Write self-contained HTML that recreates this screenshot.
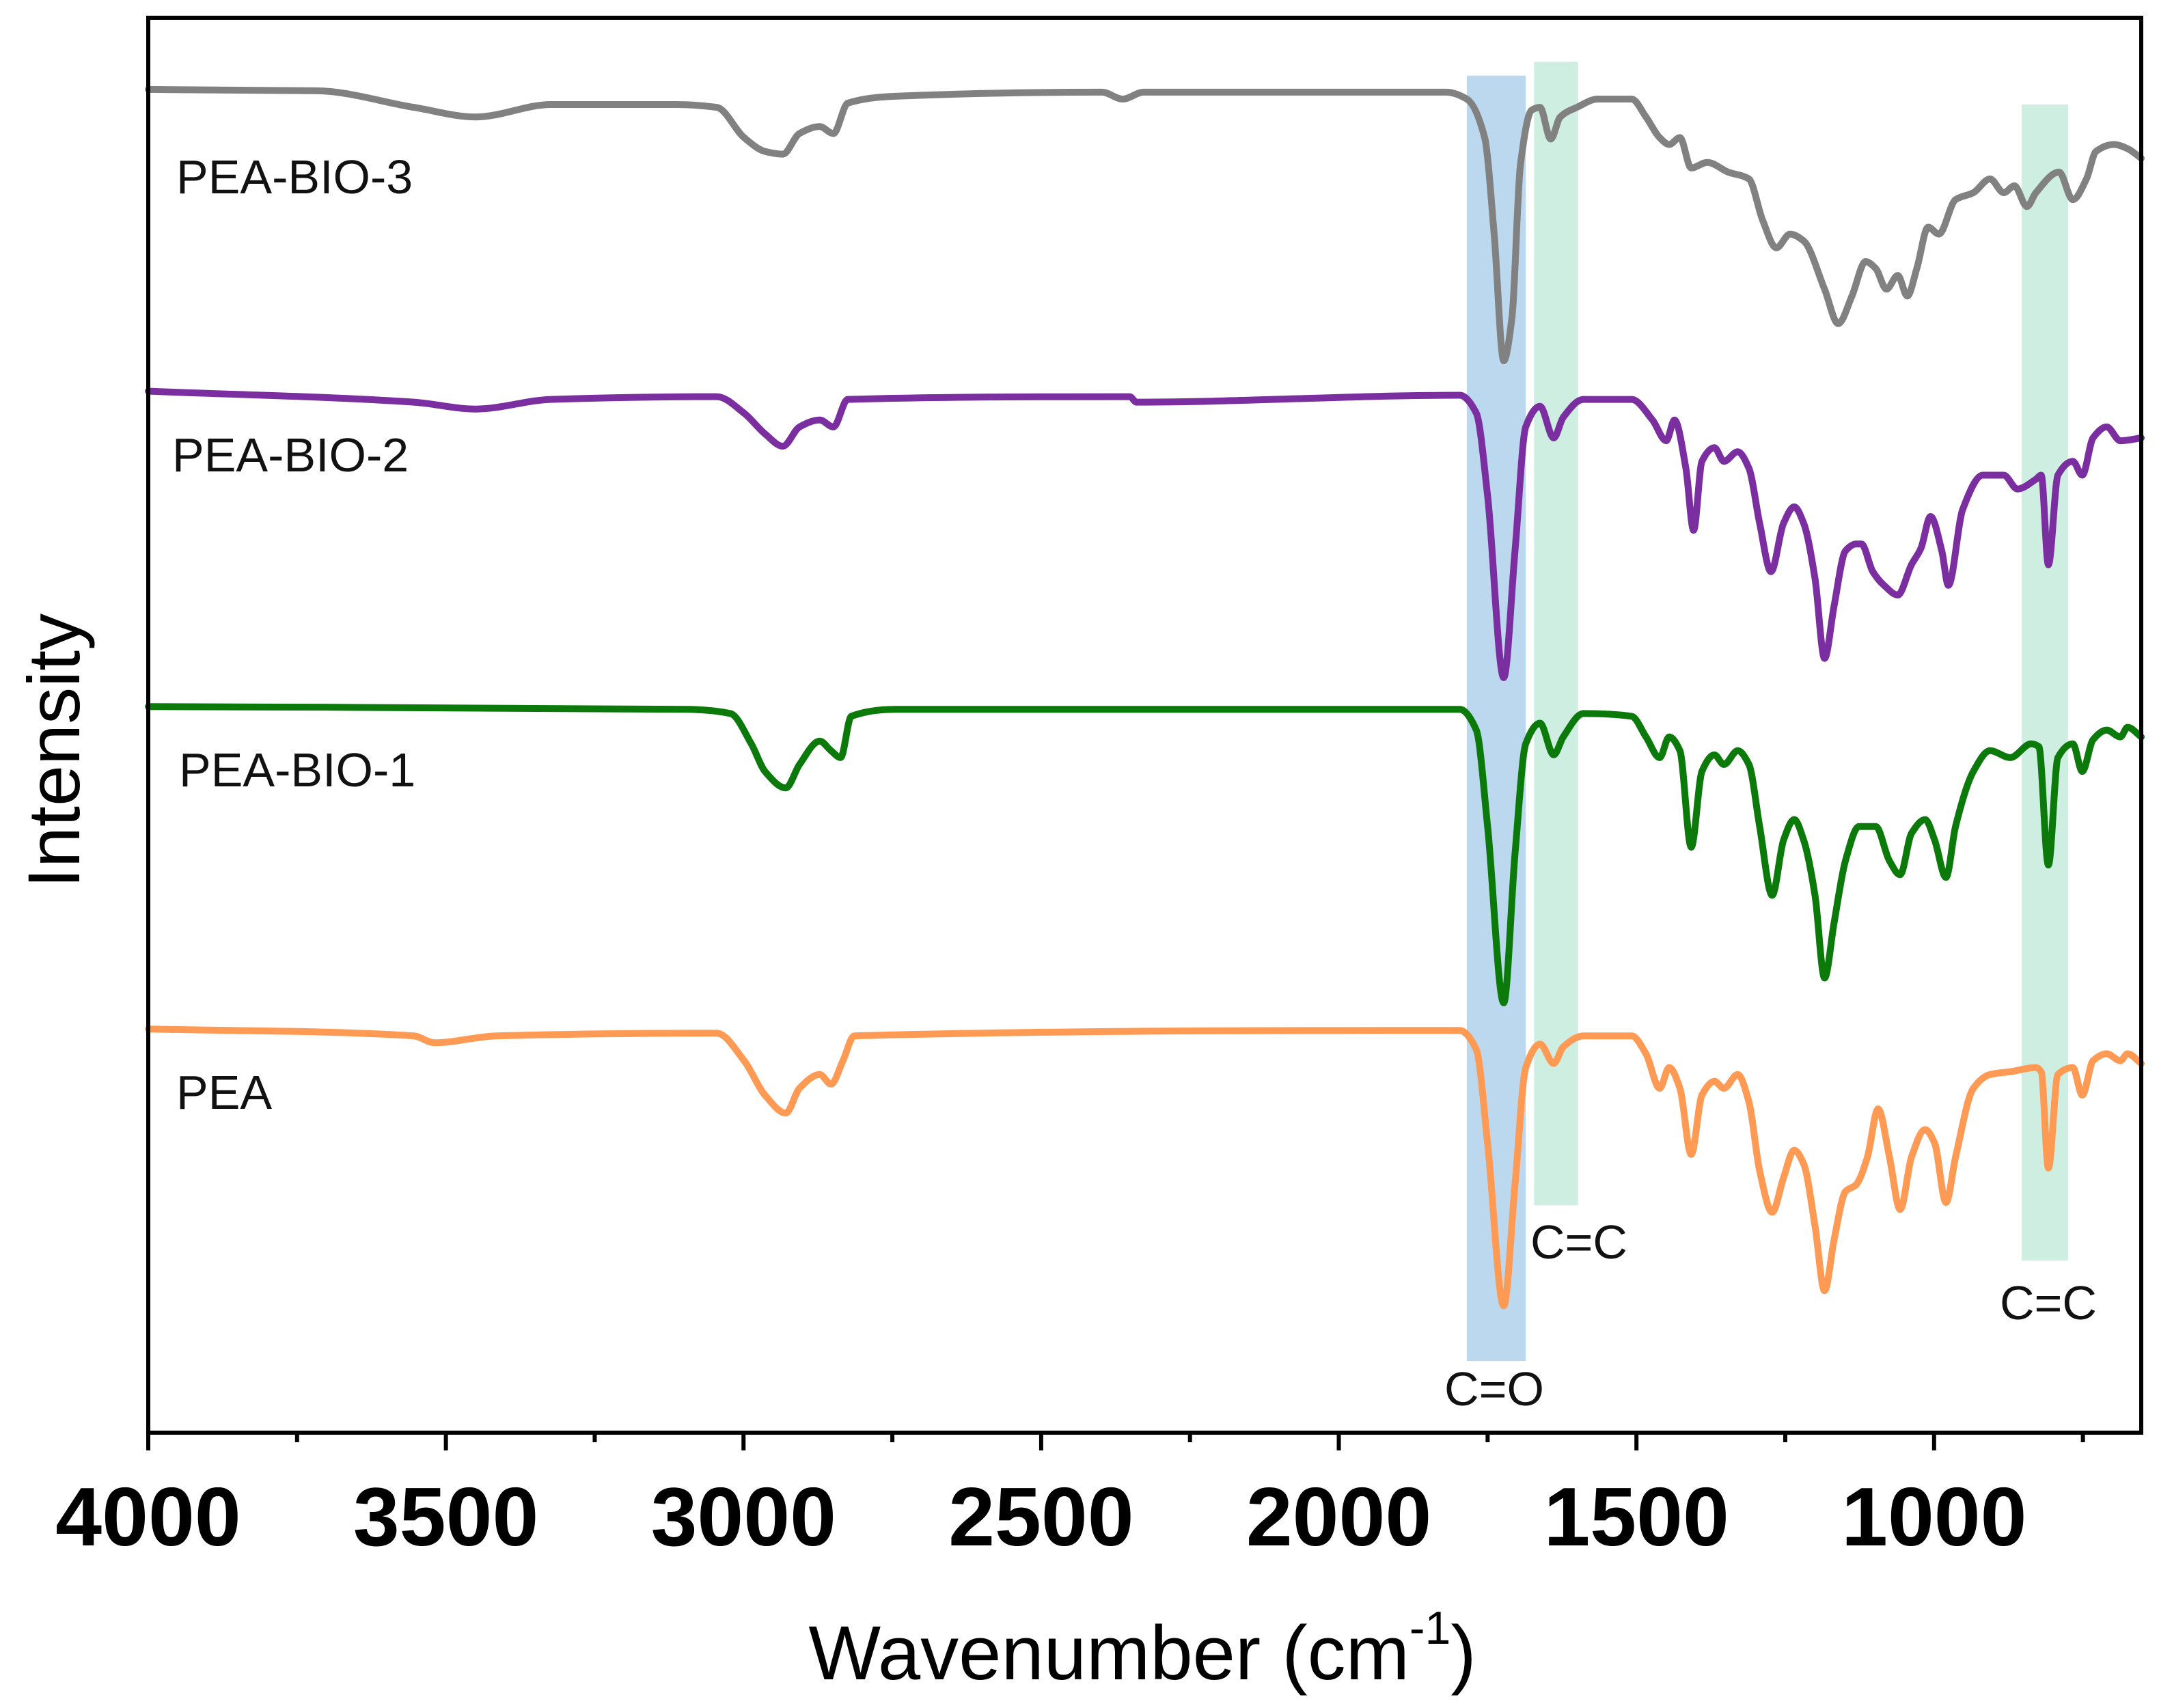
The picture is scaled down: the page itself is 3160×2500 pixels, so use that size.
<!DOCTYPE html>
<html><head><meta charset="utf-8"><style>
html,body{margin:0;padding:0;background:#fff;}
svg{display:block;}
text{font-family:"Liberation Sans",Arial,sans-serif;}
</style></head><body>
<svg id="chart" width="3160" height="2500" viewBox="0 0 3160 2500" xmlns="http://www.w3.org/2000/svg">
<g id="bands"></g>
<g id="lines"></g>
<g id="labels"></g>
<g id="axes"></g>
</svg>
<script>
// ---- data ----
const xTicks = [4000, 3500, 3000, 2500, 2000, 1500, 1000];
const xMinorTicks = [3750, 3250, 2750, 2250, 1750, 1250, 750];
const seriesNames = ["PEA-BIO-3", "PEA-BIO-2", "PEA-BIO-1", "PEA"];
const seriesColors = ["#818181", "#7a2ea0", "#0b7a0b", "#ff9a55"];
const bio3W = [4000,3716,3554,3450,3323,3114,3045,2999,2964,2934,2906,2872,2849,2825,2745,2398,2363,2328,1820,1785,1755,1739,1723,1709,1695,1676,1662,1644,1628,1600,1565,1508,1484,1461,1445,1427,1408,1381,1346,1311,1288,1265,1242,1219,1184,1161,1138,1115,1098,1080,1061,1045,1029,1010,992,964,934,906,883,865,844,829,790,767,744,728,698,675,652];
const bio3V = [975,974,962,955,964,964,962,940,930,928,943,948,943,965,970,973,968,973,973,968,940,870,778,810,920,960,962,939,955,962,968,968,955,940,935,940,918,922,915,910,880,860,870,865,830,805,825,850,845,830,840,825,845,875,870,895,900,910,900,905,890,900,915,895,910,930,935,932,925];
const bio2W = [4000,3554,3450,3323,3045,2999,2964,2934,2906,2872,2849,2825,2351,2340,1797,1769,1750,1723,1704,1686,1662,1639,1623,1589,1508,1473,1450,1436,1417,1404,1390,1369,1353,1330,1311,1293,1274,1253,1235,1219,1200,1184,1168,1149,1131,1122,1103,1084,1061,1038,1022,1006,987,976,952,918,883,860,829,820,808,792,767,751,733,710,687,652];
const bio2V = [756,748,743,750,752,740,725,716,730,735,730,750,752,748,753,740,680,548,640,730,745,722,737,750,750,735,720,735,700,655,705,715,705,712,700,660,625,660,672,660,620,562,600,640,645,645,625,615,608,630,642,665,640,615,670,695,695,685,692,695,630,695,705,695,722,730,720,722];
const bio1W = [4000,3091,3022,2987,2964,2929,2906,2872,2853,2837,2819,2745,1797,1769,1750,1723,1704,1686,1662,1639,1623,1589,1508,1484,1461,1445,1427,1408,1390,1369,1353,1330,1311,1293,1272,1253,1235,1219,1200,1184,1168,1149,1126,1098,1075,1057,1038,1015,999,980,964,934,906,872,837,824,808,792,767,751,733,710,687,675,652];
const bio1V = [527,525,522,500,480,468,485,502,495,490,520,525,525,510,440,312,420,500,515,492,505,522,520,505,490,505,495,425,480,492,485,495,485,440,390,430,445,430,390,330,370,415,440,440,415,405,435,445,430,403,440,480,495,490,500,498,412,490,500,480,503,510,505,512,505];
const peaW = [4000,3554,3519,3415,3045,2999,2964,2929,2906,2872,2853,2833,2814,1797,1769,1750,1723,1704,1686,1662,1639,1623,1589,1508,1484,1461,1445,1427,1408,1390,1369,1353,1330,1311,1293,1272,1253,1235,1219,1200,1184,1168,1149,1131,1112,1094,1075,1057,1038,1015,999,980,964,934,906,872,829,820,808,792,767,751,733,710,687,675,652];
const peaV = [293,288,283,288,290,270,245,232,250,260,253,270,288,292,278,210,92,180,265,282,268,280,288,288,275,250,265,250,202,245,255,250,260,240,190,160,185,205,195,150,103,140,175,180,200,235,200,162,200,220,210,167,200,250,260,262,265,262,192,260,265,245,270,275,270,275,268];
const bandLabels = ["C=O", "C=C", "C=C"];
const bandFrom = [1785, 1672, 853];
const bandTo = [1686, 1598, 775];
const bandTopV = [985, 995, 964];
const bandBottomV = [52, 165, 125];

// ---- layout ----
const L = 217, R = 3134, T = 26, B = 2097;
const W0 = 4000, W1 = 652, VMAX = 1027;
const xS = w => L + (W0 - w) / (W0 - W1) * (R - L);
const yS = v => B - v / VMAX * (B - T);
const NS = "http://www.w3.org/2000/svg";
function mk(tag, parent) { const e = document.createElementNS(NS, tag); parent.appendChild(e); return e; }

const bandsG = document.getElementById('bands');
const bandColors = ["#bcd8ee", "#cfeee2", "#cfeee2"];
bandFrom.forEach((f, i) => {
  const r = mk('rect', bandsG);
  
  
  r.setAttribute('x', xS(f)); r.setAttribute('width', xS(bandTo[i]) - xS(f));
  r.setAttribute('y', yS(bandTopV[i])); r.setAttribute('height', yS(bandBottomV[i]) - yS(bandTopV[i]));
  r.setAttribute('fill', bandColors[i]);
});

// monotone-x cubic interpolation (no overshoot in x)
function smoothPath(pts) {
  const n = pts.length;
  const dx = [], s = [];
  for (let i = 0; i < n - 1; i++) { dx.push(pts[i+1][0] - pts[i][0]); s.push((pts[i+1][1] - pts[i][1]) / dx[i]); }
  const m = new Array(n);
  m[0] = s[0]; m[n-1] = s[n-2];
  for (let i = 1; i < n - 1; i++) {
    if (s[i-1] * s[i] <= 0) m[i] = 0;
    else { const w1 = 2*dx[i] + dx[i-1], w2 = dx[i] + 2*dx[i-1]; m[i] = (w1 + w2) / (w1 / s[i-1] + w2 / s[i]); }
  }
  let d = 'M' + pts[0][0].toFixed(1) + ',' + pts[0][1].toFixed(1);
  for (let i = 0; i < n - 1; i++) {
    const h = dx[i] / 3;
    d += 'C' + (pts[i][0] + h).toFixed(1) + ',' + (pts[i][1] + m[i]*h).toFixed(1) + ' ' +
         (pts[i+1][0] - h).toFixed(1) + ',' + (pts[i+1][1] - m[i+1]*h).toFixed(1) + ' ' +
         pts[i+1][0].toFixed(1) + ',' + pts[i+1][1].toFixed(1);
  }
  return d;
}
const linesG = document.getElementById('lines');
const allW = [bio3W, bio2W, bio1W, peaW], allV = [bio3V, bio2V, bio1V, peaV];
allW.forEach((ws, i) => {
  const pts = ws.map((w, j) => [xS(w), yS(allV[i][j])]);
  const p = mk('path', linesG);
  
  
  p.setAttribute('d', smoothPath(pts));
  p.setAttribute('fill', 'none'); p.setAttribute('stroke', seriesColors[i]);
  p.setAttribute('stroke-width', '10'); p.setAttribute('stroke-linejoin', 'round'); p.setAttribute('stroke-linecap', 'round');
});

const labG = document.getElementById('labels');
const nameX = [258, 252, 262, 258];
const nameY = [283, 690, 1151, 1623];
seriesNames.forEach((n, i) => {
  const t = mk('text', labG);
  
  
  t.setAttribute('x', nameX[i]); t.setAttribute('y', nameY[i]);
  t.setAttribute('font-size', '70'); t.setAttribute('fill', '#111');
  t.textContent = n;
});
const bLabX = [2187, 2311, 2998];
const bLabY = [2057, 1842, 1931];
bandLabels.forEach((s, i) => {
  const t = mk('text', labG);
  
  
  t.setAttribute('x', bLabX[i]); t.setAttribute('y', bLabY[i]);
  t.setAttribute('font-size', '70'); t.setAttribute('text-anchor', 'middle'); t.setAttribute('fill', '#111');
  t.textContent = s;
});

const axG = document.getElementById('axes');
const box = mk('rect', axG);


box.setAttribute('x', L); box.setAttribute('y', T); box.setAttribute('width', R - L); box.setAttribute('height', B - T);
box.setAttribute('fill', 'none'); box.setAttribute('stroke', '#000'); box.setAttribute('stroke-width', '6');
xTicks.forEach(w => {
  const l = mk('line', axG);
  
  
  l.setAttribute('x1', xS(w)); l.setAttribute('x2', xS(w)); l.setAttribute('y1', B); l.setAttribute('y2', B + 26);
  l.setAttribute('stroke', '#000'); l.setAttribute('stroke-width', '6');
  const t = mk('text', axG);
  
  
  t.setAttribute('x', xS(w)); t.setAttribute('y', 2262);
  t.setAttribute('font-size', '122'); t.setAttribute('font-weight', 'bold'); t.setAttribute('text-anchor', 'middle');
  t.textContent = w;
});
xMinorTicks.forEach(w => {
  const l = mk('line', axG);
  
  
  l.setAttribute('x1', xS(w)); l.setAttribute('x2', xS(w)); l.setAttribute('y1', B); l.setAttribute('y2', B + 14);
  l.setAttribute('stroke', '#000'); l.setAttribute('stroke-width', '6');
});

const xt = mk('text', document.getElementById('chart'));


xt.setAttribute('x', 1672); xt.setAttribute('y', 2458); xt.setAttribute('font-size', '112'); xt.setAttribute('text-anchor', 'middle');
xt.innerHTML = 'Wavenumber (cm<tspan font-size="68" dy="-52">-1</tspan><tspan dy="52">)</tspan>';
const yt = mk('text', document.getElementById('chart'));


yt.setAttribute('transform', 'translate(116,1099) rotate(-90)'); yt.setAttribute('font-size', '108'); yt.setAttribute('text-anchor', 'middle');
yt.textContent = 'Intensity';
</script>
</body></html>
